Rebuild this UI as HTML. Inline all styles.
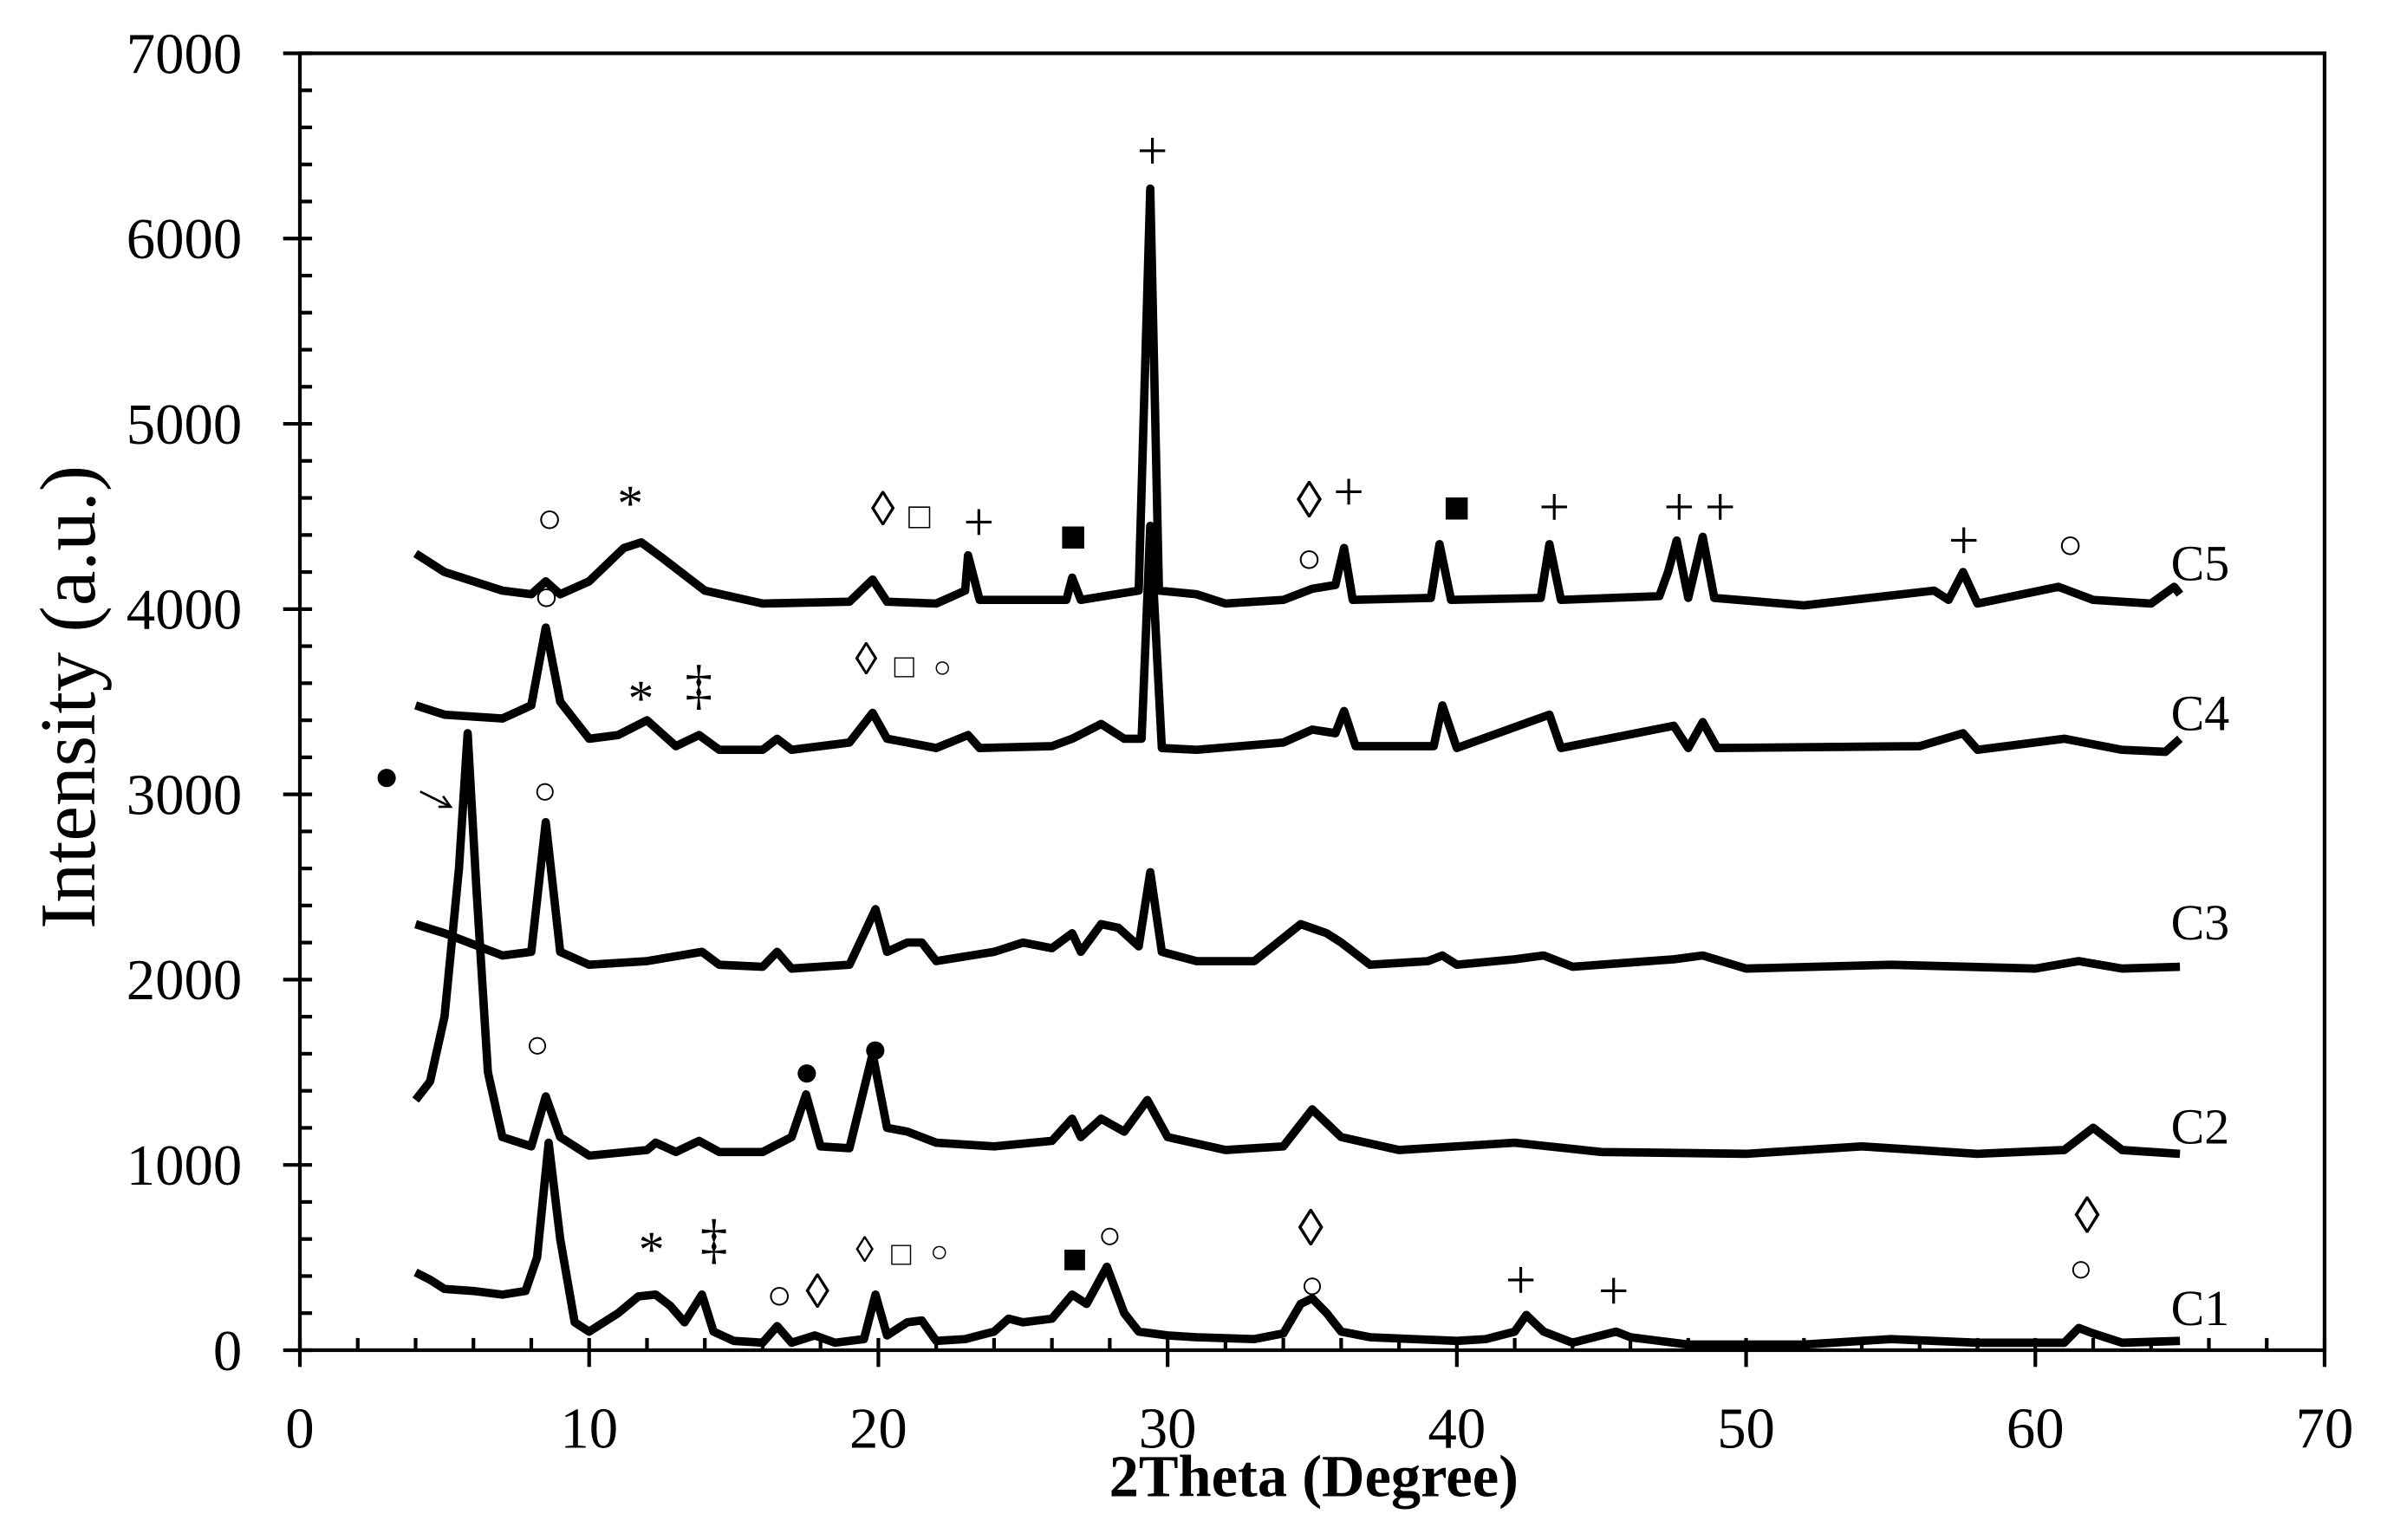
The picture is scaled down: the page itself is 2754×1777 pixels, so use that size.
<!DOCTYPE html>
<html><head><meta charset="utf-8"><style>
html,body{margin:0;padding:0;background:#fff}
svg{display:block}
text{font-family:"Liberation Serif","DejaVu Serif",serif;fill:#000}
</style></head><body>
<svg id="chart" width="2754" height="1777" viewBox="0 0 1568 1011.7" preserveAspectRatio="none" xmlns="http://www.w3.org/2000/svg">
<g id="axes"></g>
<g id="series"></g>
<g id="annot"></g>
</svg>
<script>
const xTicks=[0,10,20,30,40,50,60,70];
const yTicks=[0,1000,2000,3000,4000,5000,6000,7000];
const seriesNames=["C1","C2","C3","C4","C5"];
const c1=[[4,420],[4.5,380],[5,330],[6,320],[7,300],[7.8,320],[8.2,500],[8.6,1120],[9.0,600],[9.5,150],[10,100],[11,200],[11.7,290],[12.3,300],[12.8,240],[13.3,150],[13.9,300],[14.3,100],[15,50],[16,40],[16.5,130],[17,40],[17.8,80],[18.5,40],[19.5,60],[19.9,300],[20.3,80],[21,150],[21.5,160],[22,50],[23,60],[24,100],[24.5,170],[25,150],[26,170],[26.7,300],[27.2,250],[27.9,450],[28.5,200],[29,100],[30,80],[31,70],[33,60],[34,90],[34.6,250],[35,280],[35.5,200],[36,100],[37,70],[40,50],[41,60],[42,100],[42.4,190],[43,100],[44,40],[45.5,100],[46,70],[48,30],[52,30],[55,60],[58,40],[61,40],[61.5,120],[62,90],[63,40],[65,50]];
const c2=[[4,1350],[4.5,1450],[5,1800],[5.5,2600],[5.8,3330],[6.1,2500],[6.5,1500],[7,1150],[8,1100],[8.5,1370],[9,1150],[10,1050],[12,1080],[12.3,1120],[13,1070],[13.8,1130],[14.5,1070],[16,1070],[17,1150],[17.5,1380],[18,1100],[19,1090],[19.8,1600],[20.3,1200],[21,1180],[22,1120],[24,1100],[26,1130],[26.7,1250],[27,1150],[27.7,1250],[28.5,1180],[29.3,1350],[30,1150],[32,1080],[34,1100],[35,1300],[36,1150],[38,1080],[42,1120],[45,1070],[50,1060],[54,1100],[58,1060],[61,1080],[62,1200],[63,1080],[65,1060]];
const c3=[[4,2300],[5,2250],[7,2130],[8,2150],[8.5,2850],[9,2150],[10,2080],[12,2100],[13.9,2150],[14.5,2080],[16,2070],[16.5,2150],[17,2060],[19,2080],[19.9,2380],[20.3,2150],[21,2200],[21.5,2200],[22,2100],[24,2150],[25,2200],[26,2170],[26.7,2250],[27,2150],[27.7,2300],[28.3,2280],[29,2180],[29.4,2580],[29.8,2150],[31,2100],[33,2100],[34.6,2300],[35.5,2250],[36,2200],[37,2080],[39,2100],[39.5,2130],[40,2080],[42,2110],[43,2130],[44,2070],[47.5,2110],[48.5,2130],[50,2060],[55,2080],[60,2060],[61.5,2100],[63,2060],[65,2070]];
const c4=[[4,3480],[5,3430],[7,3410],[8,3480],[8.5,3900],[9,3500],[10,3300],[11,3320],[12,3400],[13,3260],[13.8,3320],[14.5,3240],[16,3240],[16.5,3300],[17,3240],[19,3280],[19.8,3440],[20.3,3300],[21,3280],[22,3250],[23.1,3320],[23.5,3250],[26,3260],[26.7,3300],[27.7,3380],[28.5,3300],[29.1,3300],[29.4,4450],[29.8,3250],[31,3240],[34,3280],[35,3350],[35.8,3330],[36.1,3450],[36.5,3260],[39.2,3260],[39.5,3480],[40,3250],[43.2,3430],[43.6,3250],[47.5,3370],[48,3250],[48.5,3390],[49,3250],[56,3260],[57.5,3330],[58,3240],[61,3300],[63,3240],[64.5,3230],[65,3300]];
const c5=[[4,4300],[5,4200],[7,4100],[8,4080],[8.5,4150],[9,4080],[10,4150],[11.2,4330],[11.8,4360],[12.5,4280],[14,4100],[16,4030],[19,4040],[19.8,4160],[20.3,4040],[22,4030],[23,4100],[23.1,4290],[23.5,4050],[26.5,4050],[26.7,4170],[27,4050],[29,4100],[29.4,6270],[29.7,4100],[31,4080],[32,4030],[34,4050],[35,4110],[35.8,4130],[36.1,4330],[36.4,4050],[39.1,4060],[39.4,4350],[39.8,4050],[42.9,4060],[43.2,4350],[43.6,4050],[47.0,4070],[47.3,4200],[47.6,4370],[48,4060],[48.5,4390],[48.9,4060],[52,4020],[56.5,4100],[57.0,4050],[57.5,4200],[58,4030],[60.8,4120],[62,4050],[64,4030],[64.8,4120],[65,4080]];
const seriesData=[c1,c2,c3,c4,c5];
const labelY=[120,1100,2200,3330,4140];

const NS="http://www.w3.org/2000/svg";
const X0=197,X1=1527,Y0=887,Y1=35;
function sx(v){return X0+(v-0)/(70-0)*(X1-X0);}
function sy(v){return Y0-(v-0)/(7000-0)*(Y0-Y1);}
function mk(tag,attrs,parent){const e=document.createElementNS(NS,tag);for(const k in attrs)e.setAttribute(k,attrs[k]);parent.appendChild(e);return e;}
const axes=document.getElementById('axes');
let e;
e=mk('rect',{x:X0,y:Y1,width:X1-X0,height:Y0-Y1,fill:'none',stroke:'#000','stroke-width':2.4},axes);


for(let v=0;v<=7000;v+=200){
  const major=v%1000===0;
  e=mk('line',{x1:major?X0-11:X0,x2:X0+8,y1:sy(v),y2:sy(v),stroke:'#000','stroke-width':2.4},axes);
  
  
}
yTicks.forEach(v=>{
  e=mk('text',{x:X0-38,y:sy(v)+13,'text-anchor':'end','font-size':38},axes);
  e.textContent=v;
  
  
});
for(let v=0;v<=70;v+=2){
  const major=v%10===0;
  e=mk('line',{x1:sx(v),x2:sx(v),y1:Y0-8,y2:major?Y0+11:Y0,stroke:'#000','stroke-width':2.4},axes);
  
  
}
xTicks.forEach(v=>{
  e=mk('text',{x:sx(v),y:Y0+64,'text-anchor':'middle','font-size':38},axes);
  e.textContent=v;
  
  
});
e=mk('text',{x:863,y:983,'text-anchor':'middle','font-size':39,'font-weight':'bold'},axes);
e.textContent='2Theta (Degree)';


e=mk('text',{x:0,y:0,'text-anchor':'middle','font-size':52,transform:'translate(62,458) rotate(-90)'},axes);
e.textContent='Intensity (a.u.)';



const sg=document.getElementById('series');
seriesData.forEach((d,i)=>{
  const p=d.map((pt,j)=>(j?'L':'M')+sx(pt[0]).toFixed(1)+','+sy(pt[1]).toFixed(1)).join(' ');
  e=mk('path',{d:p,fill:'none',stroke:'#000','stroke-width':5.5,'stroke-linejoin':'round'},sg);
  
  
  e=mk('text',{x:1426,y:sy(labelY[i])-2,'font-size':33},sg);
  e.textContent=seriesNames[i];
  
  
});

const an=document.getElementById('annot');
const marks=[
['○',361,350,28],['*',414,342,34],['◊',580,345,32],['□',604,347,24],['+',643,355,36],['■',705,362,30],['◊',860,340,34],['+',886,335,36],['○',860,376,28],['■',957,343,30],['+',1021,345,36],['+',1103,345,36],['+',1130,345,36],['+',1290,367,36],['○',1360,367,28],['+',757,111,36],
['○',359,401,28],['*',421,470,34],['‡',459,462,36],['◊',569,443,30],['□',594,445,22],['○',619,445,20],
['●',254,519,28],['○',358,528,26],
['○',353,695,26],['●',530,713,28],['●',575,698,28],
['*',428,832,34],['‡',469,826,36],['○',512,860,28],['◊',537,859,32],['◊',568,829,24],['□',592,831,22],['○',617,829,20],['■',706,836,28],['○',729,820,26],['◊',861,818,34],['○',862,853,26],['+',999,853,36],['+',1060,860,36],['◊',1371,810,34],['○',1367,842,26]
];
marks.forEach(m=>{
  e=mk('text',{x:m[1],y:m[2],'text-anchor':'middle','font-size':m[3],'font-family':'DejaVu Sans, sans-serif'},an);
  e.textContent=m[0];
  
  
});
e=mk('path',{d:'M276,520 L296,530 M288,530 L296,530 L291,523',fill:'none',stroke:'#000','stroke-width':1.5},an);


</script>
</body></html>
